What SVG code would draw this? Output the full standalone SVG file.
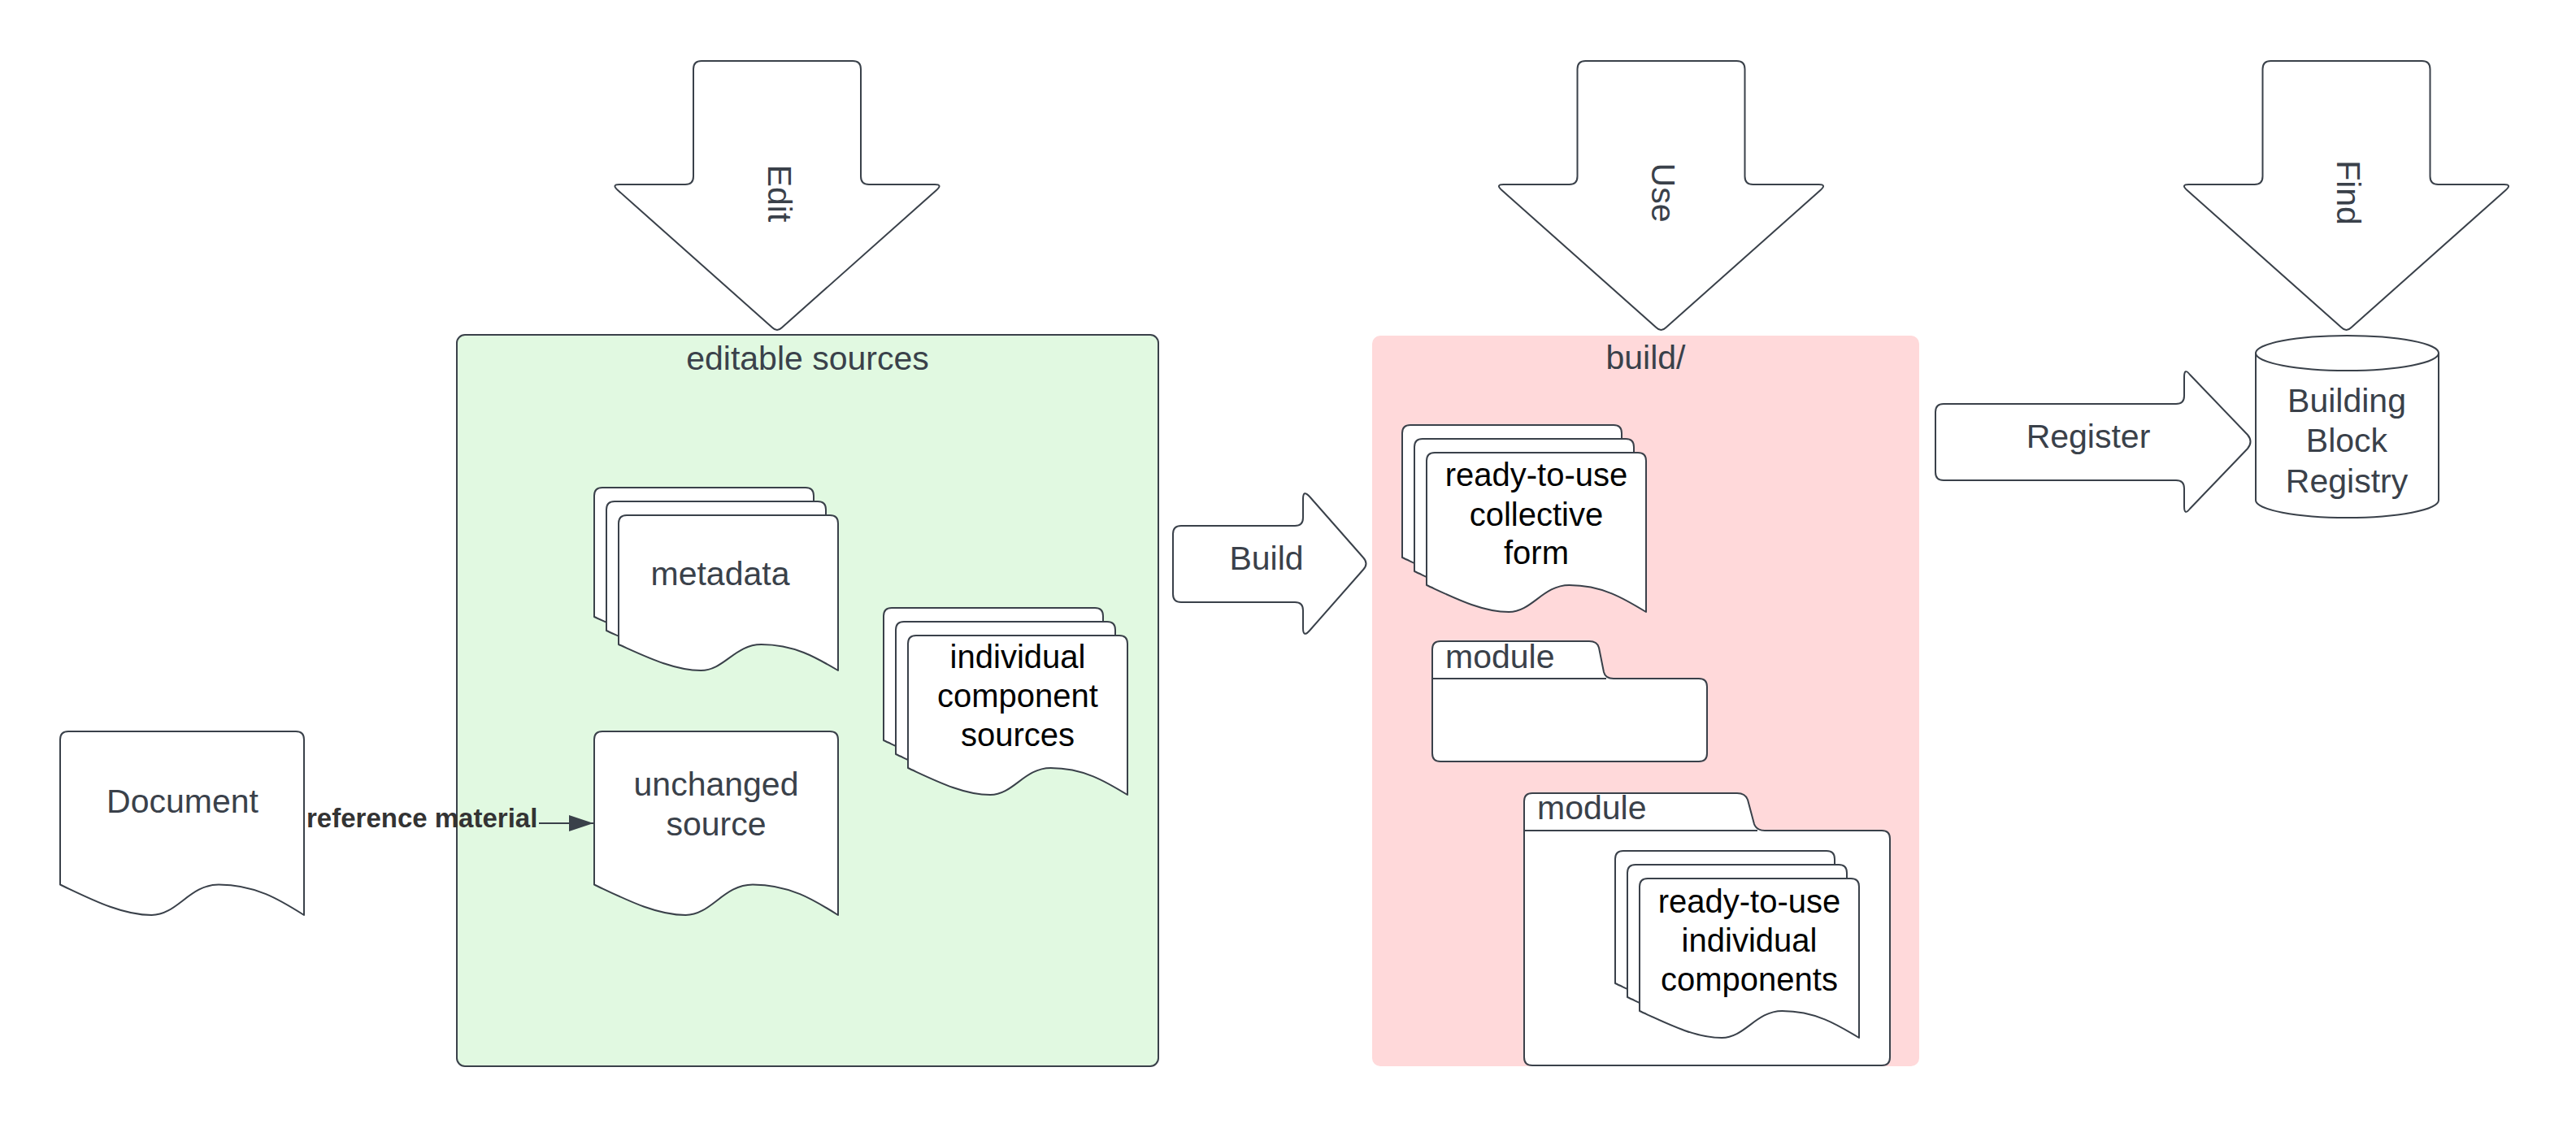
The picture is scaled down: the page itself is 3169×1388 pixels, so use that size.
<svg xmlns="http://www.w3.org/2000/svg" xmlns:xlink="http://www.w3.org/1999/xlink" width="3169" height="1388" viewBox="0 0 3169 1388">
<style>
.ln{fill:#ffffff;stroke:#3a414a;stroke-width:2;stroke-linejoin:round}
.t{font-family:"Liberation Sans",Arial,sans-serif;font-size:41px;fill:#3a414a;text-anchor:middle}
.k{font-family:"Liberation Sans",Arial,sans-serif;font-size:40px;fill:#000000;text-anchor:middle}
.lbl{font-family:"Liberation Sans",Arial,sans-serif;font-size:33px;font-weight:bold;fill:#333333}
</style>
<defs>
<path id="down" d="M -93,75 L 93,75 Q 103,75 103,85 L 103,217 Q 103,227 113,227 L 194,227 Q 204,227 196,234 L 6,403 Q 0,409 -6,403 L -196,234 Q -204,227 -194,227 L -113,227 Q -103,227 -103,217 L -103,85 Q -103,75 -93,75 Z"/>
<path id="docL" d="M0,188.5 L0,10 Q0,0 10,0 L290,0 Q300,0 300,10 L300,226 C270,207 240,188.5 195,188.5 C159,188.5 144,226 112.5,226 C75,226 36,205.4 0,188.5 Z"/>
<path id="docM" d="M0,163 L0,10 Q0,0 10,0 L260,0 Q270,0 270,10 L270,196 C243,179.5 216,163 175.5,163 C143,163 129.6,196 101.25,196 C67.5,196 32.4,177.9 0,163 Z"/>
<path id="docS" d="M0,159 L0,10 Q0,0 10,0 L260,0 Q270,0 270,10 L270,191 C243,175 216,159 175.5,159 C143,159 129.6,191 101.25,191 C67.5,191 32.4,173.4 0,159 Z"/>
<marker id="ah" markerWidth="30" markerHeight="20" refX="30" refY="10" orient="auto" markerUnits="userSpaceOnUse">
<path d="M0,0 L30,10 L0,20 Z" fill="#3a414a"/>
</marker>
</defs>

<g id="editable-sources">
<rect x="562" y="412" width="863" height="900" rx="10" fill="#e1f9e1" stroke="#3a414a" stroke-width="2"/>
<text class="t" x="993.5" y="455">editable sources</text>
</g>

<g id="build-dir">
<rect x="1688" y="413" width="673" height="899" rx="10" fill="#ffd9da"/>
<text class="t" x="2024.5" y="454">build/</text>
</g>

<g id="edit">
<use xlink:href="#down" href="#down" class="ln" transform="translate(956,0)"/>
<text class="t" transform="translate(945,238) rotate(90)">Edit</text>
</g>
<g id="use">
<use xlink:href="#down" href="#down" class="ln" transform="translate(2043.5,0)"/>
<text class="t" transform="translate(2032,237) rotate(90)">Use</text>
</g>
<g id="find">
<use xlink:href="#down" href="#down" class="ln" transform="translate(2886.5,0)"/>
<text class="t" transform="translate(2875,237) rotate(90)">Find</text>
</g>

<g id="metadata">
<use xlink:href="#docS" href="#docS" class="ln" transform="translate(731,600)"/>
<use xlink:href="#docS" href="#docS" class="ln" transform="translate(746,617)"/>
<use xlink:href="#docS" href="#docS" class="ln" transform="translate(761,634)"/>
<text class="t" x="886" y="720">metadata</text>
</g>

<g id="individual-component-sources">
<use xlink:href="#docM" href="#docM" class="ln" transform="translate(1087,748)"/>
<use xlink:href="#docM" href="#docM" class="ln" transform="translate(1102,765)"/>
<use xlink:href="#docM" href="#docM" class="ln" transform="translate(1117,782)"/>
<text class="k" x="1252" y="822">individual</text>
<text class="k" x="1252" y="870">component</text>
<text class="k" x="1252" y="918">sources</text>
</g>

<g id="document">
<use xlink:href="#docL" href="#docL" class="ln" transform="translate(74,900)"/>
<text class="t" x="224.5" y="1000">Document</text>
</g>

<g id="unchanged-source">
<use xlink:href="#docL" href="#docL" class="ln" transform="translate(731,900)"/>
<text class="t" x="881" y="979">unchanged</text>
<text class="t" x="881" y="1028">source</text>
</g>

<g id="build">
<path class="ln" d="M 1453,647 L 1593,647 Q 1603,647 1603,637 L 1603,614 Q 1603,602 1611,611 L 1677,686 Q 1684,693.5 1677,701 L 1611,776 Q 1603,785 1603,773 L 1603,751 Q 1603,741 1593,741 L 1453,741 Q 1443,741 1443,731 L 1443,657 Q 1443,647 1453,647 Z"/>
<text class="t" x="1558" y="701">Build</text>
</g>

<g id="collective-form">
<use xlink:href="#docM" href="#docM" class="ln" transform="translate(1725,523)"/>
<use xlink:href="#docM" href="#docM" class="ln" transform="translate(1740,540)"/>
<use xlink:href="#docM" href="#docM" class="ln" transform="translate(1755,557)"/>
<text class="k" x="1890" y="598">ready-to-use</text>
<text class="k" x="1890" y="647">collective</text>
<text class="k" x="1890" y="694">form</text>
</g>

<g id="module-1">
<path class="ln" d="M 1762,835 L 1762,799 Q 1762,789 1772,789 L 1955,789 Q 1965,789 1967,797 L 1973,827 Q 1975,835 1985,835 L 2090,835 Q 2100,835 2100,845 L 2100,927 Q 2100,937 2090,937 L 1772,937 Q 1762,937 1762,927 Z"/>
<path d="M1762,835 L1976,835" fill="none" stroke="#3a414a" stroke-width="2"/>
<text class="t" x="1778" y="822" style="text-anchor:start">module</text>
</g>

<g id="module-2">
<path class="ln" d="M 1875,1022 L 1875,986 Q 1875,976 1885,976 L 2137,976 Q 2147,976 2150,984 L 2158,1014 Q 2161,1022 2171,1022 L 2315,1022 Q 2325,1022 2325,1032 L 2325,1301 Q 2325,1311 2315,1311 L 1885,1311 Q 1875,1311 1875,1301 Z"/>
<path d="M1875,1022 L2162,1022" fill="none" stroke="#3a414a" stroke-width="2"/>
<text class="t" x="1891" y="1008" style="text-anchor:start">module</text>
</g>

<g id="individual-components">
<use xlink:href="#docM" href="#docM" class="ln" transform="translate(1987,1047)"/>
<use xlink:href="#docM" href="#docM" class="ln" transform="translate(2002,1064)"/>
<use xlink:href="#docM" href="#docM" class="ln" transform="translate(2017,1081)"/>
<text class="k" x="2152" y="1123">ready-to-use</text>
<text class="k" x="2152" y="1171">individual</text>
<text class="k" x="2152" y="1219">components</text>
</g>

<g id="register">
<path class="ln" d="M 2391,497 L 2677,497 Q 2687,497 2687,487 L 2687,464 Q 2687,452 2694,461 L 2765,535 Q 2772,543.5 2765,552 L 2694,626 Q 2687,635 2687,623 L 2687,601 Q 2687,591 2677,591 L 2391,591 Q 2381,591 2381,581 L 2381,507 Q 2381,497 2391,497 Z"/>
<text class="t" x="2569" y="551">Register</text>
</g>

<g id="registry">
<path class="ln" d="M 2775,434.5 L 2775,615.5 A 112.5,21.5 0 0 0 3000,615.5 L 3000,434.5 Z"/>
<ellipse class="ln" cx="2887.5" cy="434.5" rx="112.5" ry="21.5"/>
<text class="t" x="2887" y="507">Building</text>
<text class="t" x="2887" y="556">Block</text>
<text class="t" x="2887" y="606">Registry</text>
</g>

<g id="connectors">
<path d="M663,1013 L730,1013" fill="none" stroke="#3a414a" stroke-width="2" marker-end="url(#ah)"/>
<text class="lbl" x="377" y="1018">reference material</text>
</g>
</svg>
